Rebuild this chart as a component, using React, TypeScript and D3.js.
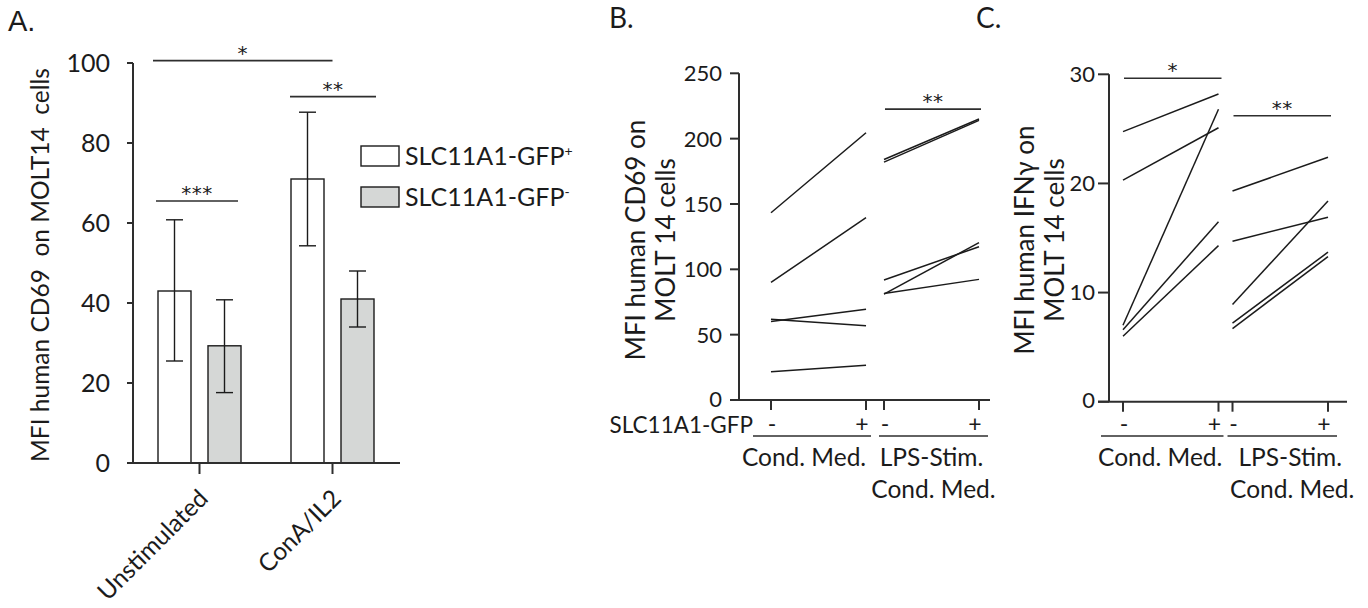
import React from "react";
import * as d3 from "d3";

const W = 1368;
const H = 608;
const FONT = "Lato, 'Open Sans', sans-serif";
const STAR_FONT = "'DejaVu Sans', sans-serif";
const INK = "#1b1b1b";
const AXIS = "#2e2e2e";

// ---- Panel A: CD69 MFI, bar chart with SD error bars ----
const stimGroups = ["Unstimulated", "ConA/IL2"];
const gfpSeries = ["pos", "neg"];
const meanGfpPos = [43, 71];
const meanGfpNeg = [29.3, 41];
const lowGfpPos = [25.5, 54.3];
const highGfpPos = [60.8, 87.7];
const lowGfpNeg = [17.6, 34];
const highGfpNeg = [40.8, 48];
const ticksA = [0, 20, 40, 60, 80, 100];
const sigA = [
  { label: "*", y: 100.6 },
  { label: "**", y: 91.6 },
  { label: "***", y: 65.5 },
];

// ---- Panel B: CD69 MFI, paired donors ----
const mediumGroups = ["Cond. Med.", "LPS-Stim. Cond. Med."];
const gfpLevels = ["-", "+"];
const cd69CondMed = [
  [143.3, 204.5],
  [90, 139.5],
  [61.7, 56.8],
  [60, 69.4],
  [21.7, 26.5],
];
const cd69LpsMed = [
  [182, 214],
  [184, 215],
  [91.8, 117.3],
  [81, 120.4],
  [81.5, 92.3],
];
const ticksB = [0, 50, 100, 150, 200, 250];
const sigB = { label: "**", y: 222.6 };

// ---- Panel C: IFN-gamma MFI, paired donors ----
const ifngCondMed = [
  [24.75, 28.2],
  [20.3, 25.1],
  [7.0, 26.8],
  [6.6, 16.5],
  [6.0, 14.3],
];
const ifngLpsMed = [
  [19.3, 22.4],
  [14.7, 16.9],
  [8.9, 18.4],
  [7.2, 13.7],
  [6.7, 13.3],
];
const ticksC = [0, 10, 20, 30];
const sigC = [
  { label: "*", y: 29.64, group: 0 },
  { label: "**", y: 26.2, group: 1 },
];

// scales
const yA = d3.scaleLinear().domain([0, 100]).range([463, 63]);
const xA = d3.scaleBand<string>().domain(stimGroups).range([133, 399]);
const xASub = d3
  .scaleBand<string>()
  .domain(gfpSeries)
  .range([-41.5, 41.5])
  .paddingInner(0.34);

const yB = d3.scaleLinear().domain([0, 250]).range([400, 73.3]);
const xBGroup = d3
  .scaleBand<string>()
  .domain(mediumGroups)
  .range([771, 979])
  .paddingInner(0.159);
const xBLevel = d3
  .scalePoint<string>()
  .domain(gfpLevels)
  .range([0, xBGroup.bandwidth()]);

const yC = d3.scaleLinear().domain([0, 30]).range([401.7, 74.3]);
const xCGroup = d3
  .scaleBand<string>()
  .domain(mediumGroups)
  .range([1123, 1328])
  .paddingInner(0.128);
const xCLevel = d3
  .scalePoint<string>()
  .domain(gfpLevels)
  .range([0, xCGroup.bandwidth()]);

const lineGen = d3
  .line<[number, number]>()
  .x((d) => d[0])
  .y((d) => d[1]);

function Sig({ x1, x2, y, label }: { x1: number; x2: number; y: number; label: string }) {
  return (
    <g>
      <line x1={x1} x2={x2} y1={y} y2={y} stroke={AXIS} strokeWidth={1.6} />
      <text
        x={(x1 + x2) / 2}
        y={y - 1}
        textAnchor="middle"
        fontSize={20}
        fill={INK}
        fontFamily={STAR_FONT}
        letterSpacing={0.5}
      >
        {label}
      </text>
    </g>
  );
}

function PanelA() {
  const bars: { g: number; s: string; mean: number; lo: number; hi: number }[] = [];
  stimGroups.forEach((_, i) => {
    bars.push({ g: i, s: "pos", mean: meanGfpPos[i], lo: lowGfpPos[i], hi: highGfpPos[i] });
    bars.push({ g: i, s: "neg", mean: meanGfpNeg[i], lo: lowGfpNeg[i], hi: highGfpNeg[i] });
  });
  const center = (g: string) => (xA(g) as number) + xA.bandwidth() / 2;
  const barLeft = (g: string, s: string) => center(g) + (xASub(s) as number);
  const bw = xASub.bandwidth();
  const x0 = yA.range()[0];
  return (
    <g>
      {/* bars */}
      {bars.map((b, i) => {
        const g = stimGroups[b.g];
        const left = barLeft(g, b.s);
        const cx = left + bw / 2;
        return (
          <g key={i}>
            <rect
              x={left}
              y={yA(b.mean)}
              width={bw}
              height={yA(0) - yA(b.mean)}
              fill={b.s === "pos" ? "#ffffff" : "#d5d7d6"}
              stroke={INK}
              strokeWidth={1.4}
            />
            <line x1={cx} x2={cx} y1={yA(b.lo)} y2={yA(b.hi)} stroke={INK} strokeWidth={1.4} />
            <line x1={cx - 8.5} x2={cx + 8.5} y1={yA(b.hi)} y2={yA(b.hi)} stroke={INK} strokeWidth={1.4} />
            <line x1={cx - 8.5} x2={cx + 8.5} y1={yA(b.lo)} y2={yA(b.lo)} stroke={INK} strokeWidth={1.4} />
          </g>
        );
      })}
      {/* y axis */}
      <line x1={133} x2={133} y1={yA(0)} y2={yA(100)} stroke={AXIS} strokeWidth={2} />
      {ticksA.map((t) => (
        <g key={t}>
          <line x1={127} x2={133} y1={yA(t)} y2={yA(t)} stroke={AXIS} strokeWidth={2} />
          <text
            x={110}
            y={yA(t)}
            dy="0.36em"
            textAnchor="end"
            fontSize={25}
            fill={INK}
            fontFamily={FONT}
          >
            {t}
          </text>
        </g>
      ))}
      {/* x axis */}
      <line x1={127} x2={400} y1={x0} y2={x0} stroke={AXIS} strokeWidth={2} />
      {stimGroups.map((g) => {
        const cx = center(g);
        return (
          <g key={g}>
            <line x1={cx} x2={cx} y1={x0} y2={x0 + 11} stroke={AXIS} strokeWidth={2} />
            <text
              transform={`translate(${cx + 10},${x0 + 37}) rotate(-45)`}
              textAnchor="end"
              fontSize={24.5}
              fill={INK}
              fontFamily={FONT}
            >
              {g}
            </text>
          </g>
        );
      })}
      {/* axis title */}
      <text
        transform={`translate(49,${(yA(0) + yA(100)) / 2 + 2}) rotate(-90)`}
        textAnchor="middle"
        fontSize={24.5}
        fill={INK}
        fontFamily={FONT}
        style={{ whiteSpace: "pre" }}
        xmlSpace="preserve"
      >
        {"MFI human CD69  on MOLT14  cells"}
      </text>
      {/* significance */}
      <Sig
        x1={barLeft("Unstimulated", "pos") - 5}
        x2={center("ConA/IL2")}
        y={yA(sigA[0].y)}
        label={sigA[0].label}
      />
      <Sig
        x1={barLeft("ConA/IL2", "pos") - 1}
        x2={barLeft("ConA/IL2", "neg") + bw + 2}
        y={yA(sigA[1].y)}
        label={sigA[1].label}
      />
      <Sig
        x1={barLeft("Unstimulated", "pos") - 2}
        x2={barLeft("Unstimulated", "neg") + bw - 3}
        y={yA(sigA[2].y)}
        label={sigA[2].label}
      />
      {/* legend */}
      {gfpSeries.map((s, i) => (
        <g key={s} transform={`translate(361,${146 + i * 41})`}>
          <rect
            width={38}
            height={20}
            fill={s === "pos" ? "#ffffff" : "#d5d7d6"}
            stroke={INK}
            strokeWidth={1.4}
          />
          <text x={44} y={19} fontSize={25} fill={INK} fontFamily={FONT}>
            SLC11A1-GFP
            <tspan fontSize={14} dy={-9}>
              {s === "pos" ? "+" : "-"}
            </tspan>
          </text>
        </g>
      ))}
    </g>
  );
}

function PairedPanel({
  y,
  xGroup,
  xLevel,
  groupsData,
  ticks,
  axisX,
  axisRight,
  tickSize,
  title,
  titleX,
  titleSize,
  labelX,
  labelFont,
  showRowLabel,
  firstShift,
  lpsShift,
}: any) {
  const base = y.range()[0];
  const top = y.range()[1];
  const levelX = (gi: number, lvl: string) =>
    (xGroup(mediumGroups[gi]) as number) + (xLevel(lvl) as number);
  return (
    <g>
      {/* paired donor lines */}
      {groupsData.map((rows: number[][], gi: number) =>
        rows.map((r, ri) => (
          <path
            key={`${gi}-${ri}`}
            d={
              lineGen([
                [levelX(gi, "-"), y(r[0])],
                [levelX(gi, "+"), y(r[1])],
              ]) as string
            }
            fill="none"
            stroke={INK}
            strokeWidth={1.5}
          />
        ))
      )}
      {/* y axis */}
      <line x1={axisX} x2={axisX} y1={base} y2={top} stroke={AXIS} strokeWidth={2} />
      {ticks.map((t: number) => (
        <g key={t}>
          <line x1={axisX - tickSize} x2={axisX} y1={y(t)} y2={y(t)} stroke={AXIS} strokeWidth={2} />
          <text
            x={labelX}
            y={y(t)}
            dy={t === 0 ? "0.3em" : "0.36em"}
            textAnchor="end"
            fontSize={labelFont}
            fill={INK}
            fontFamily={FONT}
          >
            {t}
          </text>
        </g>
      ))}
      {/* x axis */}
      <line x1={axisX - tickSize} x2={axisRight} y1={base} y2={base} stroke={AXIS} strokeWidth={2} />
      {mediumGroups.map((g, gi) =>
        gfpLevels.map((lvl) => {
          const x = levelX(gi, lvl);
          return (
            <g key={`${g}${lvl}`}>
              <line x1={x} x2={x} y1={base} y2={base + 10} stroke={AXIS} strokeWidth={2} />
              <text
                x={lvl === "-" ? x + 1 : x - 4}
                y={432}
                textAnchor="middle"
                fontSize={23}
                fill={INK}
                fontFamily={FONT}
              >
                {lvl}
              </text>
            </g>
          );
        })
      )}
      {/* group underlines and labels */}
      {mediumGroups.map((g, gi) => {
        const x1 = levelX(gi, "-") - (gi === 0 ? (showRowLabel ? 18 : 22) : 5);
        const x2 = levelX(gi, "+") + (gi === 0 ? 5 : 9);
        return (
          <g key={g}>
            <line x1={x1} x2={x2} y1={436} y2={436} stroke={AXIS} strokeWidth={1.5} />
            {gi === 0 ? (
              <text
                x={(x1 + x2) / 2 + firstShift}
                y={466}
                textAnchor="middle"
                fontSize={24.5}
                fill={INK}
                fontFamily={FONT}
              >
                Cond. Med.
              </text>
            ) : (
              <g>
                <text
                  x={(x1 + x2) / 2 + lpsShift}
                  y={466}
                  textAnchor="middle"
                  fontSize={24.5}
                  fill={INK}
                  fontFamily={FONT}
                >
                  LPS-Stim.
                </text>
                <text
                  x={(x1 + x2) / 2 + lpsShift + 2}
                  y={498}
                  textAnchor="middle"
                  fontSize={24.5}
                  fill={INK}
                  fontFamily={FONT}
                >
                  Cond. Med.
                </text>
              </g>
            )}
          </g>
        );
      })}
      {showRowLabel && (
        <text
          x={levelX(0, "-") - 18}
          y={433}
          textAnchor="end"
          fontSize={22.5}
          fill={INK}
          fontFamily={FONT}
        >
          SLC11A1-GFP
        </text>
      )}
      {/* axis title */}
      {title.map((line: string, li: number) => (
        <text
          key={li}
          transform={`translate(${titleX + li * 30},240) rotate(-90)`}
          textAnchor="middle"
          fontSize={titleSize}
          fill={INK}
          fontFamily={FONT}
        >
          {line}
        </text>
      ))}
    </g>
  );
}

export default function App() {
  const gB0 = xBGroup(mediumGroups[1]) as number;
  const gC = (gi: number) => xCGroup(mediumGroups[gi]) as number;
  return (
    <svg
      width={W}
      height={H}
      viewBox={`0 0 ${W} ${H}`}
      style={{ position: "absolute", left: 0, top: 0, background: "#ffffff" }}
    >
      <rect width={W} height={H} fill="#ffffff" />
      {/* panel letters */}
      <text x={8} y={31} fontSize={29} fill={INK} fontFamily="'Liberation Sans', Arial, sans-serif">
        A.
      </text>
      <text x={609} y={28} fontSize={28} fill={INK} fontFamily={FONT}>
        B.
      </text>
      <text x={976} y={28} fontSize={28} fill={INK} fontFamily={FONT}>
        C.
      </text>

      <PanelA />

      <PairedPanel
        y={yB}
        xGroup={xBGroup}
        xLevel={xBLevel}
        groupsData={[cd69CondMed, cd69LpsMed]}
        ticks={ticksB}
        axisX={739}
        axisRight={990}
        tickSize={9}
        title={["MFI human CD69 on", "MOLT 14 cells"]}
        titleX={645}
        titleSize={26}
        labelX={722}
        labelFont={22}
        showRowLabel={true}
        firstShift={-8}
        lpsShift={-2}
      />
      <Sig
        x1={gB0 + 1}
        x2={gB0 + xBGroup.bandwidth() + 2}
        y={yB(sigB.y)}
        label={sigB.label}
      />

      <PairedPanel
        y={yC}
        xGroup={xCGroup}
        xLevel={xCLevel}
        groupsData={[ifngCondMed, ifngLpsMed]}
        ticks={ticksC}
        axisX={1109}
        axisRight={1347}
        tickSize={11}
        title={["MFI human IFN\u03b3 on", "MOLT 14 cells"]}
        titleX={1034}
        titleSize={26}
        labelX={1095}
        labelFont={22}
        showRowLabel={false}
        firstShift={-2}
        lpsShift={8}
      />
      {sigC.map((s) => (
        <Sig
          key={s.label}
          x1={gC(s.group) + 1}
          x2={gC(s.group) + xCGroup.bandwidth() + 3}
          y={yC(s.y)}
          label={s.label}
        />
      ))}
    </svg>
  );
}
